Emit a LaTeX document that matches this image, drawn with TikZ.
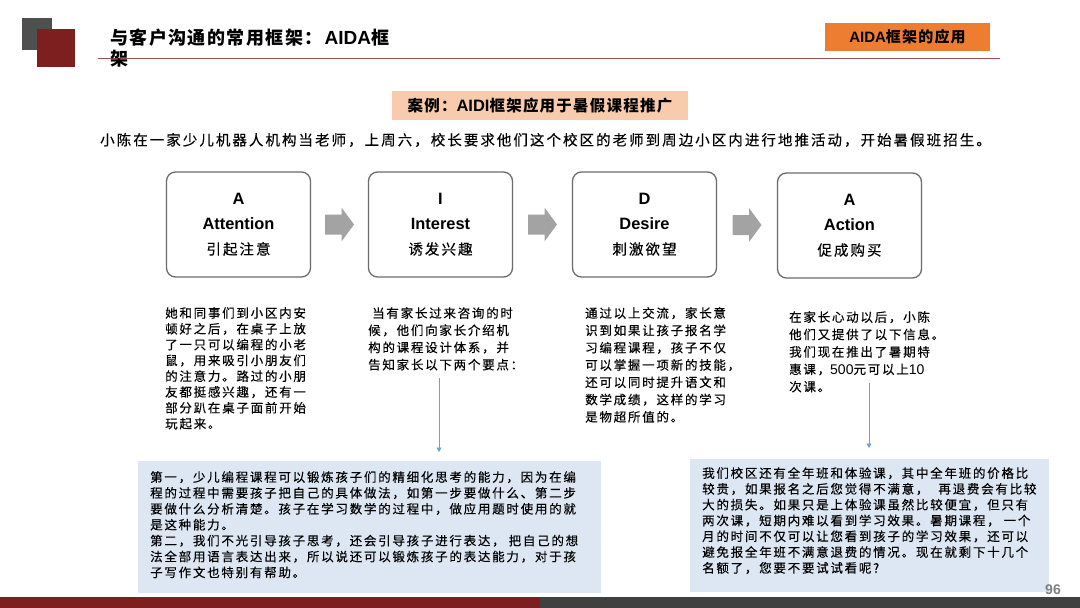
\documentclass[tikz,border=0pt]{standalone}
\usepackage{fontspec}
\setmainfont{Liberation Sans}
\newfontfamily\cjk[LetterSpace=14,FakeBold=0.3]{Noto Sans CJK SC}
\newfontfamily\cjkt[LetterSpace=8]{Noto Sans CJK SC}
\newfontfamily\lat{Liberation Sans}
\usetikzlibrary{arrows.meta,calc}
\definecolor{sqgray}{HTML}{4F4F4F}
\definecolor{darkred}{HTML}{7D1E1F}
\definecolor{ruleline}{HTML}{A24E4E}
\definecolor{orangebox}{HTML}{ED7D31}
\definecolor{peach}{HTML}{F8CBAD}
\definecolor{boxgray}{HTML}{6B6B6B}
\definecolor{arrowgray}{HTML}{A3A3A3}
\definecolor{bluearrow}{HTML}{6F9FD8}
\definecolor{lightblue}{HTML}{DDE7F3}
\definecolor{bargray}{HTML}{404040}
\definecolor{numgray}{HTML}{7F7F7F}
\tikzset{
  stage/.style={draw=boxgray, line width=1.3pt, rounded corners=9pt, minimum width=144pt, minimum height=105pt, align=center, inner sep=0pt, font=\fontsize{16.4}{25}\selectfont\bfseries},
  body/.style={inner sep=0pt, anchor=north west, align=left},
  note/.style={fill=lightblue, inner sep=0pt, anchor=north west},
  flow/.style={draw=bluearrow, line width=0.9pt, -{Triangle[width=5pt,length=4.5pt]}},
  blockarrow/.pic={\fill[arrowgray] (-14.5,-10) -- (2,-10) -- (2,-17) -- (14.5,0) -- (2,17) -- (2,10) -- (-14.5,10) -- cycle;}
}
\newcommand{\zh}[1]{{\cjk\fontsize{14.5}{25}\selectfont\mdseries #1}}
\begin{document}
\begin{tikzpicture}[x=1pt,y=-1pt]
\useasboundingbox (0,0) rectangle (1080,608);
% header
\fill[sqgray] (22,18) rectangle (52,50);
\fill[darkred] (37,29) rectangle (75,67);
\draw[ruleline, line width=1.8pt] (98,58.5) -- (1000,58.5);
\node[body, font=\fontsize{18}{21}\selectfont\bfseries] (title) at (110,29)
  {{\cjkt 与客户沟通的常用框架：}\hspace{2pt}{\fontsize{19}{21}\selectfont AIDA}{\cjkt 框}\\{\cjkt 架}};
\node[fill=orangebox, minimum width=165pt, minimum height=28pt, inner sep=0pt, font=\fontsize{15}{15}\selectfont\bfseries] (tag) at (907.5,37) {AIDA{\cjkt 框架的应用}};
% case
\node[fill=peach, minimum width=296pt, minimum height=29pt, inner sep=0pt, font=\fontsize{15.5}{15.5}\selectfont\bfseries\cjkt] (case) at (540,105.5) {案例：{\lat\fontsize{16.5}{16}\selectfont AIDI}框架应用于暑假课程推广};
\node[inner sep=0pt, anchor=west, font=\fontsize{14.5}{14.5}\selectfont\cjk] (intro) at (100,140) {小陈在一家少儿机器人机构当老师，上周六，校长要求他们这个校区的老师到周边小区内进行地推活动，开始暑假班招生。};
% stages
\node[stage] (s1) at (238.5,224.5) {A\\Attention\\\zh{引起注意}};
\node[stage] (s2) at (440.5,224.5) {I\\Interest\\\zh{诱发兴趣}};
\node[stage] (s3) at (644.5,224.5) {D\\Desire\\\zh{刺激欲望}};
\node[stage] (s4) at (849.5,225.5) {A\\Action\\\zh{促成购买}};
\pic at ($(s1.east)!0.5!(s2.west)$) {blockarrow};
\pic at ($(s2.east)!0.5!(s3.west)$) {blockarrow};
\pic at ($(s3.east)!0.5!(s4.west)$) {blockarrow};
% texts
\node[body, font=\fontsize{12.5}{15.8}\selectfont\cjk] (t1) at (165,307) {她和同事们到小区内安\\顿好之后，在桌子上放\\了一只可以编程的小老\\鼠，用来吸引小朋友们\\的注意力。路过的小朋\\友都挺感兴趣，还有一\\部分趴在桌子面前开始\\玩起来。};
\node[body, font=\fontsize{12.5}{17.2}\selectfont\cjk] (t2) at (368,307) {\hspace{4pt}当有家长过来咨询的时\\候，他们向家长介绍机\\构的课程设计体系，并\\告知家长以下两个要点：};
\node[body, font=\fontsize{12.5}{17.3}\selectfont\cjk] (t3) at (585,307) {通过以上交流，家长意\\识到如果让孩子报名学\\习编程课程，孩子不仅\\可以掌握一项新的技能，\\还可以同时提升语文和\\数学成绩，这样的学习\\是物超所值的。};
\node[body, font=\fontsize{12.5}{17.4}\selectfont\cjk] (t4) at (789,311) {在家长心动以后，小陈\\他们又提供了以下信息。\\我们现在推出了暑期特\\惠课，{\lat\fontsize{14}{17.4}\selectfont 500}元可以上{\lat\fontsize{14}{17.4}\selectfont 10}\\次课。};
% notes
\node[note, minimum width=463pt, minimum height=132pt] (n1) at (138,461) {};
\node[body, font=\fontsize{12.5}{15.9}\selectfont\cjk] (t5) at (150,471) {第一，少儿编程课程可以锻炼孩子们的精细化思考的能力，因为在编\\程的过程中需要孩子把自己的具体做法，如第一步要做什么、第二步\\要做什么分析清楚。孩子在学习数学的过程中，做应用题时使用的就\\是这种能力。\\第二，我们不光引导孩子思考，还会引导孩子进行表达，\hspace{4pt}把自己的想\\法全部用语言表达出来，所以说还可以锻炼孩子的表达能力，对于孩\\子写作文也特别有帮助。};
\node[note, minimum width=359pt, minimum height=133pt] (n2) at (690,459) {};
\node[body, font=\fontsize{12.5}{15.8}\selectfont\cjk] (t6) at (702,467) {我们校区还有全年班和体验课，其中全年班的价格比\\较贵，如果报名之后您觉得不满意，\hspace{10pt}再退费会有比较\\大的损失。如果只是上体验课虽然比较便宜，但只有\\两次课，短期内难以看到学习效果。暑期课程，\hspace{4pt}一个\\月的时间不仅可以让您看到孩子的学习效果，还可以\\避免报全年班不满意退费的情况。现在就剩下十几个\\名额了，您要不要试试看呢?};
% arrows
\coordinate (a1) at (439,378);
\draw[flow, shorten >=9pt] (a1) -- (a1 |- n1.north);
\coordinate (a2) at (869,383);
\draw[flow, shorten >=11pt] (a2) -- (a2 |- n2.north);
% footer
\fill[darkred] (0,597) rectangle (540,608);
\fill[bargray] (540,597) rectangle (1080,608);
\node[font=\fontsize{14}{14}\selectfont\bfseries, text=numgray, inner sep=0pt] (pg) at (1053,590) {96};
\end{tikzpicture}
\end{document}
